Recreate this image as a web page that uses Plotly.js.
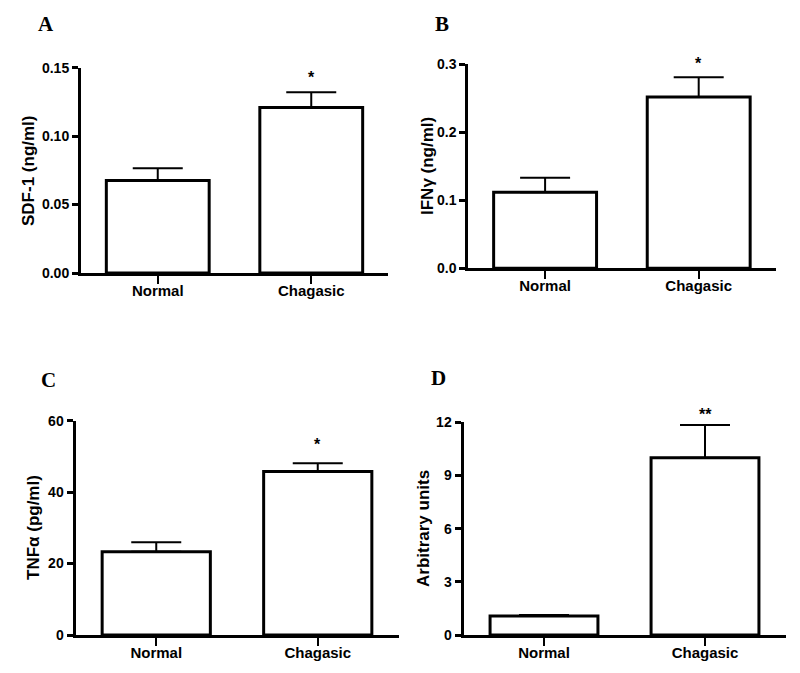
<!DOCTYPE html>
<html>
<head>
<meta charset="utf-8">
<script src="https://cdn.plot.ly/plotly-3.0.1.min.js"></script>
<style>html,body{margin:0;padding:0;background:#fff}#chart{width:800px;height:673px}</style>
</head>
<body>
<div id="chart"></div>
<script>
// ---- data ----
var categories = ['Normal', 'Chagasic'];
var sdf1Mean = [0.0675, 0.121];
var sdf1Sem  = [0.009, 0.011];
var ifngMean = [0.112, 0.252];
var ifngSem  = [0.021, 0.029];
var tnfMean  = [23.3, 45.8];
var tnfSem   = [2.7, 2.3];
var arbMean  = [1.07, 10.0];
var arbSem   = [0.06, 1.85];
var sigA = ['', '*'];
var sigB = ['', '*'];
var sigC = ['', '*'];
var sigD = ['', '**'];
var panelLetters = ['A', 'B', 'C', 'D'];
var yTitles = ['SDF-1 (ng/ml)', 'IFNγ (ng/ml)', 'TNFα (pg/ml)', 'Arbitrary units'];

var W = 800, H = 673;
function px(x) { return x / W; }
function py(y) { return 1 - y / H; }

var panels = [
  {mean: sdf1Mean, sem: sdf1Sem, sig: sigA, xd: [81, 388], yd: [273, 67.7], range: [0, 0.15], dtick: 0.05, fmt: '.2f',
   letter: [46, 24], title: [28, 171], starShift: 4},
  {mean: ifngMean, sem: ifngSem, sig: sigB, xd: [468.3, 775.5], yd: [268.3, 64.3], range: [0, 0.3], dtick: 0.1, fmt: '.1f',
   letter: [442, 24], title: [427, 166], starShift: 3},
  {mean: tnfMean, sem: tnfSem, sig: sigC, xd: [75.5, 398.5], yd: [635, 420.7], range: [0, 60], dtick: 20, fmt: 'd',
   letter: [48, 380], title: [33, 528], starShift: 8},
  {mean: arbMean, sem: arbSem, sig: sigD, xd: [463.5, 785.5], yd: [635, 422.3], range: [0, 12], dtick: 3, fmt: 'd',
   letter: [438, 378], title: [423, 529], starShift: 0}
];

var tickFont = {family: 'Liberation Sans, Arial, sans-serif', size: 14, color: '#000', weight: 'bold'};
var xTickFont = {family: 'Liberation Sans, Arial, sans-serif', size: 15, color: '#000', weight: 'bold'};

var data = [];
var layout = {
  width: W, height: H,
  margin: {l: 0, r: 0, t: 0, b: 0},
  paper_bgcolor: '#fff', plot_bgcolor: 'rgba(0,0,0,0)',
  showlegend: false,
  bargap: 0.33,
  annotations: []
};

panels.forEach(function (p, i) {
  var n = i + 1;
  var xa = 'x' + (n === 1 ? '' : n), ya = 'y' + (n === 1 ? '' : n);
  var xk = 'xaxis' + (n === 1 ? '' : n), yk = 'yaxis' + (n === 1 ? '' : n);
  data.push({
    type: 'bar', x: categories, y: p.mean, xaxis: xa, yaxis: ya,
    marker: {color: '#fff', line: {color: '#000', width: 3}},
    error_y: {type: 'data', symmetric: false, array: p.sem, arrayminus: [0, 0], color: '#000', thickness: 2, width: 25},
    hoverinfo: 'skip'
  });
  layout[xk] = {
    domain: [px(p.xd[0]), px(p.xd[1])], anchor: ya, type: 'category', range: [-0.5, 1.5],
    showline: true, linecolor: '#000', linewidth: 3, showgrid: false, zeroline: false,
    ticks: 'outside', ticklen: 8, tickwidth: 2, tickcolor: '#000', tickfont: xTickFont, fixedrange: true,
    ticklabelstandoff: -6
  };
  layout[yk] = {
    domain: [py(p.yd[0]), py(p.yd[1])], anchor: xa, range: p.range, dtick: p.dtick, tick0: 0, tickformat: p.fmt,
    showline: true, linecolor: '#000', linewidth: 3, showgrid: false, zeroline: false,
    ticks: 'outside', ticklen: 6, tickwidth: 3, tickcolor: '#000', tickfont: tickFont, fixedrange: true
  };
  // significance stars
  categories.forEach(function (c, j) {
    if (p.sig[j]) {
      layout.annotations.push({
        xref: xa, yref: ya, x: c, y: p.mean[j] + p.sem[j], text: p.sig[j], showarrow: false,
        yanchor: 'bottom', yshift: p.starShift,
        font: {family: 'Liberation Sans, Arial, sans-serif', size: 16, color: '#000', weight: 'bold'}
      });
    }
  });
  // panel letter
  layout.annotations.push({
    xref: 'paper', yref: 'paper', x: px(p.letter[0]), y: py(p.letter[1]), text: panelLetters[i],
    showarrow: false, xanchor: 'center', yanchor: 'middle',
    font: {family: 'Liberation Serif, Times New Roman, serif', size: 21, color: '#000', weight: 'bold'}
  });
  // y-axis title
  layout.annotations.push({
    xref: 'paper', yref: 'paper', x: px(p.title[0]), y: py(p.title[1]), text: yTitles[i],
    showarrow: false, textangle: -90, xanchor: 'center', yanchor: 'middle',
    font: {family: 'Liberation Sans, Arial, sans-serif', size: 17, color: '#000', weight: 'bold'}
  });
});

Plotly.newPlot('chart', data, layout, {displayModeBar: false, staticPlot: true});
</script>
</body>
</html>
